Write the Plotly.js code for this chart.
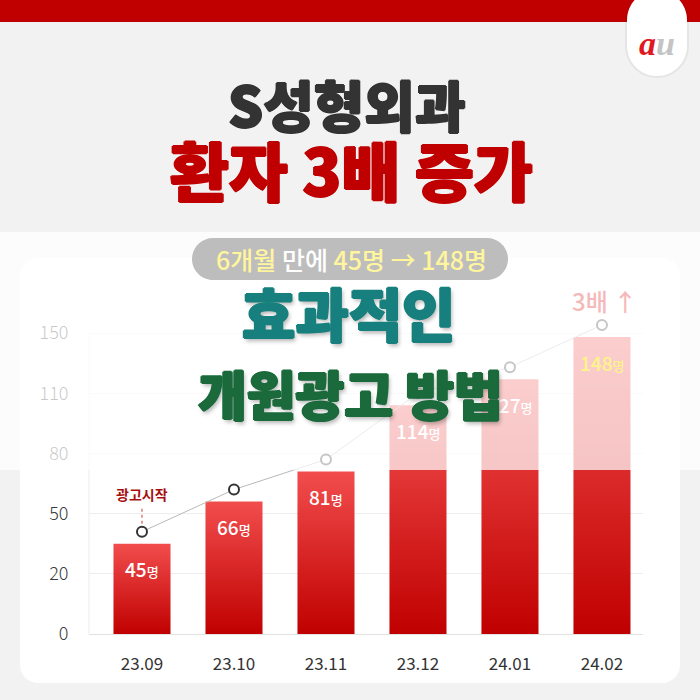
<!DOCTYPE html>
<html>
<head>
<meta charset="utf-8">
<script src="https://cdn.plot.ly/plotly-3.0.1.min.js"></script>
<style>
html,body{margin:0;padding:0;background:#f2f2f2;}
#chart{width:700px;height:700px;}
</style>
</head>
<body>
<div id="chart"></div>
<script>
// ---------- data ----------
const months = ['23.09', '23.10', '23.11', '23.12', '24.01', '24.02'];
const patients = [45, 66, 81, 114, 127, 148];
const tickLabels = ['0', '20', '50', '80', '110', '150'];
const unit = '명';
const startLabel = '광고시작';
const growthLabel = '3배 ↑';
const titleLine1 = 'S성형외과';
const titleLine2 = '환자 3배 증가';
const pillText = ['6개월', ' 만에 ', '45명 → 148명'];
const overlayLine1 = '효과적인';
const overlayLine2 = '개원광고 방법';

// ---------- layout helpers (pixel -> paper) ----------
const W = 700, H = 700;
const X = p => p / W;
const Y = p => 1 - p / H;
function rr(x0, y0, x1, y1, r) {
  const k = 0.5523 * r;
  return `M${X(x0 + r)},${Y(y0)} L${X(x1 - r)},${Y(y0)} ` +
    `C${X(x1 - r + k)},${Y(y0)} ${X(x1)},${Y(y0 + r - k)} ${X(x1)},${Y(y0 + r)} ` +
    `L${X(x1)},${Y(y1 - r)} ` +
    `C${X(x1)},${Y(y1 - r + k)} ${X(x1 - r + k)},${Y(y1)} ${X(x1 - r)},${Y(y1)} ` +
    `L${X(x0 + r)},${Y(y1)} ` +
    `C${X(x0 + r - k)},${Y(y1)} ${X(x0)},${Y(y1 - r + k)} ${X(x0)},${Y(y1 - r)} ` +
    `L${X(x0)},${Y(y0 + r)} ` +
    `C${X(x0)},${Y(y0 + r - k)} ${X(x0 + r - k)},${Y(y0)} ${X(x0 + r)},${Y(y0)} Z`;
}
function heavy(color, w) {
  return `${w}px 0 0 ${color}, -${w}px 0 0 ${color}, 0 ${w}px 0 ${color}, 0 -${w}px 0 ${color}`;
}

// plot box in pixels; the top gridline sits at gridTopPx and stands for gridTop units
const plotBottom = 634, plotTopPx = 300, gridTopPx = 333, plotLeft = 89, plotRight = 643;
const gridTop = 150;
const pxPerUnit = (plotBottom - gridTopPx) / gridTop;
const yMax = (plotBottom - plotTopPx) / pxPerUnit;
const lineLift = 12 / pxPerUnit; // markers sit a little above bar tops
const tickVals = tickLabels.map((_, i) => i * gridTop / (tickLabels.length - 1));

const FONT = 'Noto Sans CJK KR, Noto Sans, sans-serif';

// ---------- traces ----------
const barTrace = {
  type: 'bar',
  x: months,
  y: patients,
  width: 0.62,
  marker: {color: '#dc2a2a', line: {width: 0}},
  hoverinfo: 'skip'
};
const lineTrace = {
  type: 'scatter',
  mode: 'lines+markers',
  x: months,
  y: patients,
  yaxis: 'y2',
  cliponaxis: false,
  line: {color: '#b9b9b9', width: 1},
  marker: {symbol: 'circle', size: 10, color: '#ffffff', line: {color: '#333333', width: 2}},
  hoverinfo: 'skip'
};

// ---------- annotations ----------
const annotations = [];
patients.forEach((v, i) => {
  annotations.push({
    x: i, y: v, xref: 'x', yref: 'y',
    text: `${v}<span style="font-size:13px">${unit}</span>`,
    showarrow: false, xanchor: 'center', yanchor: 'middle', yshift: -25,
    font: {family: FONT, size: 19, weight: 500, color: i === patients.length - 1 ? '#fff489' : '#ffffff'}
  });
});
annotations.push({
  x: 0, y: patients[0], xref: 'x', yref: 'y',
  text: `<b>${startLabel}</b>`, showarrow: false, xanchor: 'center', yanchor: 'middle',
  yshift: 50, font: {family: FONT, size: 14, color: '#a80f0f'}
});
annotations.push({
  x: patients.length - 1, y: patients[patients.length - 1], xref: 'x', yref: 'y',
  text: growthLabel, showarrow: false, xanchor: 'center', yanchor: 'middle',
  yshift: 37, xshift: 3, font: {family: FONT, size: 24, weight: 500, color: '#f5b9b9'}
});
// header
annotations.push({
  x: X(347), y: Y(103), xref: 'paper', yref: 'paper', text: titleLine1, showarrow: false,
  xanchor: 'center', yanchor: 'middle',
  font: {family: FONT, size: 55, weight: 900, color: '#333333', shadow: heavy('#333333', 1)}
});
annotations.push({
  x: X(351), y: Y(168), xref: 'paper', yref: 'paper', text: titleLine2, showarrow: false,
  xanchor: 'center', yanchor: 'middle',
  font: {family: FONT, size: 64, weight: 900, color: '#c00000', shadow: heavy('#c00000', 1.2)}
});
// pill text
annotations.push({
  x: X(351), y: Y(259), xref: 'paper', yref: 'paper',
  text: `<span style="color:#fff59d">${pillText[0]}</span>${pillText[1]}<span style="color:#fff59d">${pillText[2]}</span>`,
  showarrow: false, xanchor: 'center', yanchor: 'middle',
  font: {family: FONT, size: 25, weight: 500, color: '#ffffff'}
});
// overlay headline
annotations.push({
  x: X(348), y: Y(312), xref: 'paper', yref: 'paper', text: overlayLine1, showarrow: false,
  xanchor: 'center', yanchor: 'middle',
  font: {family: FONT, size: 58, weight: 900, color: '#17807e',
         shadow: heavy('#17807e', 1.2) + ', 2px 3px 4px rgba(0,0,0,0.3)'}
});
annotations.push({
  x: X(350), y: Y(393), xref: 'paper', yref: 'paper', text: overlayLine2, showarrow: false,
  xanchor: 'center', yanchor: 'middle',
  font: {family: FONT, size: 53, weight: 900, color: '#1a6a3b',
         shadow: heavy('#1a6a3b', 1.2) + ', 2px 3px 4px rgba(0,0,0,0.3)'}
});
// logo
annotations.push({
  x: X(657), y: Y(44), xref: 'paper', yref: 'paper',
  text: '<span style="color:#e0181f">a</span><span style="color:#c4c4c4">u</span>',
  showarrow: false, xanchor: 'center', yanchor: 'middle',
  font: {family: 'Liberation Serif, serif', size: 34, weight: 700, style: 'italic'}
});

// ---------- shapes ----------
const shapes = [
  // white card
  {type: 'path', xref: 'paper', yref: 'paper', layer: 'below', path: rr(20, 258, 680, 683, 18),
   fillcolor: '#ffffff', line: {width: 0}},
  // faint left axis line
  {type: 'line', xref: 'paper', yref: 'paper', layer: 'below',
   x0: X(plotLeft), x1: X(plotLeft), y0: Y(plotBottom), y1: Y(gridTopPx),
   line: {color: '#ececec', width: 1}},
  // top red band
  {type: 'rect', xref: 'paper', yref: 'paper', layer: 'above', x0: 0, x1: 1, y0: Y(22), y1: 1,
   fillcolor: '#c00000', line: {width: 0}},
  // logo tab shadow + tab
  {type: 'path', xref: 'paper', yref: 'paper', layer: 'above', path: rr(625, -10, 689, 78, 32),
   fillcolor: 'rgba(0,0,0,0.05)', line: {width: 0}},
  {type: 'path', xref: 'paper', yref: 'paper', layer: 'above', path: rr(627, -10, 687, 76, 30),
   fillcolor: '#ffffff', line: {width: 0}},
  // dashed pointer for start label
  {type: 'line', xref: 'x', yref: 'y', layer: 'above', x0: 0, x1: 0,
   y0: patients[0] + 20 / pxPerUnit, y1: patients[0] + 38 / pxPerUnit,
   line: {color: '#cf5a5a', width: 1.2, dash: 'dot'}},
  // fading overlay
  {type: 'rect', xref: 'paper', yref: 'paper', layer: 'above', x0: 0, x1: 1, y0: Y(470), y1: Y(232),
   fillcolor: 'rgba(255,255,255,0.72)', line: {width: 0}},
  // pill
  {type: 'path', xref: 'paper', yref: 'paper', layer: 'above', path: rr(192, 238, 508, 280, 21),
   fillcolor: '#bdbdbd', line: {width: 0}}
];

const layout = {
  width: W, height: H,
  margin: {l: 0, r: 0, t: 0, b: 0, pad: 0},
  paper_bgcolor: '#f2f2f2',
  plot_bgcolor: 'rgba(0,0,0,0)',
  showlegend: false,
  hovermode: false,
  font: {family: FONT},
  xaxis: {
    type: 'category',
    domain: [X(plotLeft), X(plotRight)],
    range: [-0.576, 5.446],
    showgrid: false,
    showline: true, linecolor: '#e2e2e2', linewidth: 1,
    ticks: 'outside', ticklen: 15, tickcolor: 'rgba(0,0,0,0)',
    tickfont: {family: FONT, size: 17, weight: 400, color: '#333333'},
    fixedrange: true
  },
  yaxis: {
    domain: [Y(plotBottom), Y(plotTopPx)],
    range: [0, yMax],
    tickmode: 'array', tickvals: tickVals, ticktext: tickLabels,
    showgrid: true, gridcolor: '#ededed', gridwidth: 1,
    zeroline: false,
    showline: false,
    ticks: 'outside', ticklen: 16, tickcolor: 'rgba(0,0,0,0)',
    tickfont: {family: FONT, size: 18, weight: 300, color: '#3a3a3a'},
    fixedrange: true
  },
  yaxis2: {
    overlaying: 'y',
    range: [-lineLift, yMax - lineLift],
    visible: false,
    fixedrange: true
  },
  shapes: shapes,
  annotations: annotations
};

Plotly.newPlot('chart', [barTrace, lineTrace], layout, {staticPlot: true, displayModeBar: false}).then(gd => {
  // vertical gradient on the bars
  const svg = gd.querySelector('svg.main-svg');
  const ns = 'http://www.w3.org/2000/svg';
  let defs = svg.querySelector('defs');
  if (!defs) { defs = document.createElementNS(ns, 'defs'); svg.insertBefore(defs, svg.firstChild); }
  const grad = document.createElementNS(ns, 'linearGradient');
  grad.setAttribute('id', 'barGrad');
  grad.setAttribute('x1', '0'); grad.setAttribute('y1', '0');
  grad.setAttribute('x2', '0'); grad.setAttribute('y2', '1');
  [['0%', '#f24d4d'], ['100%', '#c00000']].forEach(([o, c]) => {
    const s = document.createElementNS(ns, 'stop');
    s.setAttribute('offset', o); s.setAttribute('stop-color', c);
    grad.appendChild(s);
  });
  defs.appendChild(grad);
  gd.querySelectorAll('.barlayer .point path').forEach(p => { p.style.fill = 'url(#barGrad)'; });
});
</script>
</body>
</html>
